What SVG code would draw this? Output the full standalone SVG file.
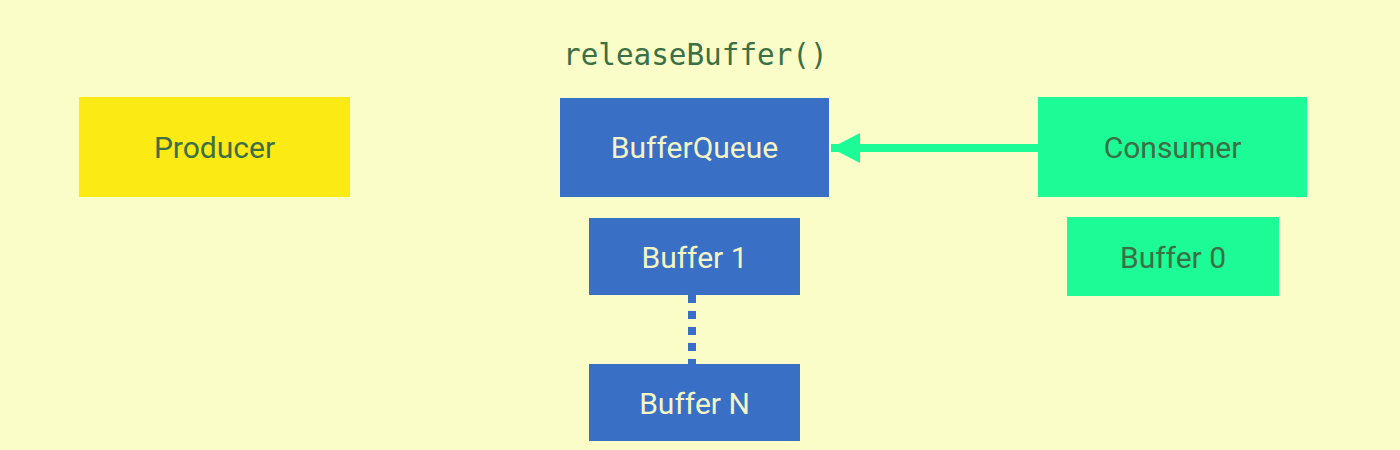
<svg xmlns="http://www.w3.org/2000/svg" width="1400" height="450" viewBox="0 0 1400 450">
<defs>
<style>
.lbl{font-family:Roboto,"Liberation Sans",sans-serif;font-size:30px;text-anchor:middle;dominant-baseline:central}
.dark{fill:#3b6f45}
.light{fill:#f3f6c4}
.blue{fill:#3a6fc6}
.green{fill:#1dfb96}
.yellow{fill:#fbea14}
</style>
<marker id="ah" markerUnits="userSpaceOnUse" markerWidth="30" markerHeight="30" refX="29" refY="15" orient="auto">
<path d="M0,0 L29,15 L0,30 Z" fill="#1dfb96"/>
</marker>
</defs>
<rect width="1400" height="450" fill="#fafdc8"/>
<text x="563" y="65" font-family="'DejaVu Sans Mono','Liberation Mono',monospace" font-size="29.3" fill="#3b6f45">releaseBuffer()</text>
<g id="connectors">
<line x1="1038" y1="148" x2="831" y2="148" stroke="#1dfb96" stroke-width="8" marker-end="url(#ah)"/>
<line x1="692" y1="295" x2="692" y2="364" stroke="#3a6fc6" stroke-width="8" stroke-dasharray="8 8"/>
</g>
<g id="producer">
<rect x="79" y="97" width="271" height="100" class="yellow"/>
<text x="214.5" y="147" class="lbl dark">Producer</text>
</g>
<g id="bufferqueue">
<rect x="560" y="98" width="269" height="99" class="blue"/>
<text x="694.5" y="147" class="lbl light">BufferQueue</text>
</g>
<g id="consumer">
<rect x="1038" y="97" width="269" height="100" class="green"/>
<text x="1172.5" y="147" class="lbl dark">Consumer</text>
</g>
<g id="buffer0">
<rect x="1067" y="217" width="212" height="79" class="green"/>
<text x="1173" y="257" class="lbl dark">Buffer 0</text>
</g>
<g id="buffer1">
<rect x="589" y="218" width="211" height="77" class="blue"/>
<text x="694.5" y="257" class="lbl light">Buffer 1</text>
</g>
<g id="bufferN">
<rect x="589" y="364" width="211" height="77" class="blue"/>
<text x="694.5" y="403" class="lbl light">Buffer N</text>
</g>
</svg>
